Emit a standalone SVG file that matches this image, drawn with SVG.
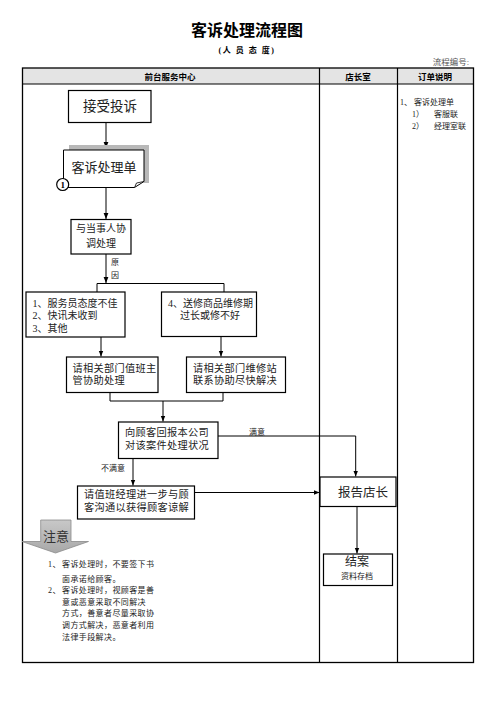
<svg xmlns="http://www.w3.org/2000/svg" width="496" height="702" viewBox="0 0 496 702">
<style>
text{font-family:"Liberation Serif","Noto Sans CJK SC",serif;fill:#222}
.b{fill:#fff;stroke:#000;stroke-width:1.2}
.ln{fill:none;stroke:#000;stroke-width:1}
.c{text-anchor:middle}
.hd{font-weight:bold;font-size:8.5px;fill:#000}
.t10{font-size:10px}
.t11{font-size:10.2px;letter-spacing:0.3px}
.s8{font-size:8px}
.note{font-size:8px;letter-spacing:0.4px;fill:#333}
</style>
<defs>
<marker id="ah" viewBox="0 0 10 10" refX="10" refY="5" markerWidth="6" markerHeight="6" orient="auto">
<path d="M0,1 L10,5 L0,9 Z" fill="#000"/>
</marker>
<linearGradient id="gg" x1="0" y1="0" x2="0" y2="1">
<stop offset="0" stop-color="#c8c8c8"/>
<stop offset="1" stop-color="#a8a8a8"/>
</linearGradient>
</defs>
<rect width="496" height="702" fill="#fff"/>

<g id="title">
<text x="247" y="36" class="c" style="font-size:16px;font-weight:bold;fill:#000">客诉处理流程图</text>
<text x="247" y="53" class="c" style="font-size:8px;font-weight:bold;fill:#000;letter-spacing:1.5px">(人 员 态 度)</text>
<text x="469" y="65" style="font-size:8.5px;fill:#555;text-anchor:end">流程编号:</text>
</g>

<g id="table">
<rect x="22.5" y="68" width="451" height="16" fill="#e4e4e4"/>
<rect x="22.5" y="68" width="451" height="594.5" fill="none" stroke="#000" stroke-width="1.3"/>
<line x1="22.5" y1="84" x2="473.5" y2="84" stroke="#000" stroke-width="1.2"/>
<line x1="319.5" y1="68" x2="319.5" y2="662.5" stroke="#000" stroke-width="1.2"/>
<line x1="397.5" y1="68" x2="397.5" y2="662.5" stroke="#000" stroke-width="1.2"/>
<text x="170" y="79.5" class="c hd">前台服务中心</text>
<text x="358" y="79.5" class="c hd">店长室</text>
<text x="435" y="79.5" class="c hd">订单说明</text>
</g>

<g id="order-notes" class="s8">
<text x="400" y="104.5">1、 客诉处理单</text>
<text x="412" y="116.5">1）</text><text x="434" y="116.5">客服联</text>
<text x="412" y="129">2）</text><text x="434" y="129">经理室联</text>
</g>

<g id="connectors">
<line x1="106" y1="122.5" x2="106" y2="148" class="ln" marker-end="url(#ah)"/>
<line x1="106" y1="187.5" x2="106" y2="219" class="ln" marker-end="url(#ah)"/>
<line x1="106" y1="254" x2="106" y2="283" class="ln" marker-end="url(#ah)"/>
<line x1="97" y1="283.5" x2="224" y2="283.5" class="ln"/>
<line x1="97" y1="283.5" x2="97" y2="292" class="ln"/>
<line x1="224" y1="283.5" x2="224" y2="292" class="ln"/>
<line x1="101" y1="337" x2="101" y2="356.5" class="ln" marker-end="url(#ah)"/>
<line x1="221" y1="336.5" x2="221" y2="356.5" class="ln" marker-end="url(#ah)"/>
<polyline points="110,393 110,401 223,401 223,392.5" class="ln"/>
<line x1="163" y1="401" x2="163" y2="421.5" class="ln" marker-end="url(#ah)"/>
<polyline points="218,436 355.7,436 355.7,476.5" class="ln" marker-end="url(#ah)"/>
<line x1="133" y1="459" x2="133" y2="485.5" class="ln" marker-end="url(#ah)"/>
<line x1="194.5" y1="492.5" x2="319.5" y2="492.5" class="ln" marker-end="url(#ah)"/>
<line x1="357" y1="506.5" x2="357" y2="553.5" class="ln" marker-end="url(#ah)"/>
<text x="115" y="265" class="c s8">原</text>
<text x="115" y="278" class="c s8">因</text>
<text x="257" y="434.5" class="c s8">满意</text>
<text x="113" y="471" class="c s8">不满意</text>
</g>

<g id="n-receive">
<rect x="68.5" y="90.5" width="82.5" height="32" class="b"/>
<text x="110" y="111" class="c" style="font-size:13.5px">接受投诉</text>
</g>

<g id="n-form">
<path d="M69,145 H149 V183 H144 V150 H69 Z" fill="#b8b8b8"/>
<path d="M63.5,150 H144 V181.5 L134.5,187.5 H63.5 Z" fill="#fff" stroke="#000" stroke-width="1"/>
<path d="M134.5,187.5 L136.5,183 L144,181.5" fill="none" stroke="#000" stroke-width="0.8"/>
<text x="104" y="171.5" class="c" style="font-size:13px">客诉处理单</text>
<circle cx="62.7" cy="184.5" r="6" fill="#fff" stroke="#000" stroke-width="1.2"/>
<text x="62.7" y="188" class="c" style="font-size:9px;font-weight:bold;fill:#000">1</text>
</g>

<g id="n-coord">
<rect x="71" y="219.5" width="60" height="34.5" class="b"/>
<text x="101" y="232" class="c t10">与当事人协</text>
<text x="101" y="246.5" class="c t10">调处理</text>
</g>

<g id="n-reason1">
<rect x="26" y="292" width="99" height="45" class="b"/>
<text x="32.5" y="306.5" class="t10">1、服务员态度不佳</text>
<text x="32.5" y="319" class="t10">2、快讯未收到</text>
<text x="32.5" y="331.5" class="t10">3、其他</text>
</g>

<g id="n-reason2">
<rect x="161.5" y="292" width="95" height="44.5" class="b"/>
<text x="168" y="306.5" class="t10">4、送修商品维修期</text>
<text x="210" y="319" class="c t10">过长或修不好</text>
</g>

<g id="n-supervisor">
<rect x="66.5" y="357" width="91.5" height="35.5" class="b"/>
<text x="72.5" y="371.5" class="t11">请相关部门值班主</text>
<text x="72.5" y="384" class="t11">管协助处理</text>
</g>

<g id="n-repair">
<rect x="186.5" y="357" width="99" height="35.5" class="b"/>
<text x="193" y="371.5" class="t11">请相关部门维修站</text>
<text x="193" y="384" class="t11">联系协助尽快解决</text>
</g>

<g id="n-report-customer">
<rect x="118.5" y="422" width="99.5" height="36.5" class="b"/>
<text x="125" y="436" class="t11">向顾客回报本公司</text>
<text x="125" y="448.5" class="t11">对该案件处理状况</text>
</g>

<g id="n-manager">
<rect x="77.5" y="486" width="117" height="33" class="b"/>
<text x="84" y="498" class="t11">请值班经理进一步与顾</text>
<text x="84" y="511" class="t11">客沟通以获得顾客谅解</text>
</g>

<g id="n-report-store">
<rect x="320" y="477" width="76" height="29.5" class="b"/>
<text x="363" y="497" class="c" style="font-size:12.5px">报告店长</text>
</g>

<g id="n-close">
<rect x="323.5" y="554" width="69" height="31.5" class="b"/>
<text x="357" y="566" class="c" style="font-size:12px">结案</text>
<text x="357" y="578.5" class="c s8">资料存档</text>
</g>

<g id="n-attention">
<path d="M40.7,520 H71 V541.5 H88.5 L55.5,553 L22,541.5 H40.7 Z" fill="url(#gg)" stroke="#8a8a8a" stroke-width="0.8"/>
<text x="56" y="541" class="c" style="font-size:13px;fill:#333">注意</text>
<g class="note">
<text x="48" y="567">1、</text>
<text x="62" y="567">客诉处理时，不要签下书</text>
<text x="62" y="581.5">面承诺给顾客。</text>
<text x="48" y="593">2、</text>
<text x="62" y="593">客诉处理时，视顾客是善</text>
<text x="62" y="604.5">意或恶意采取不同解决</text>
<text x="62" y="616">方式，善意者尽量采取协</text>
<text x="62" y="627.5">调方式解决，恶意者利用</text>
<text x="62" y="639.5">法律手段解决。</text>
</g>
</g>
</svg>
